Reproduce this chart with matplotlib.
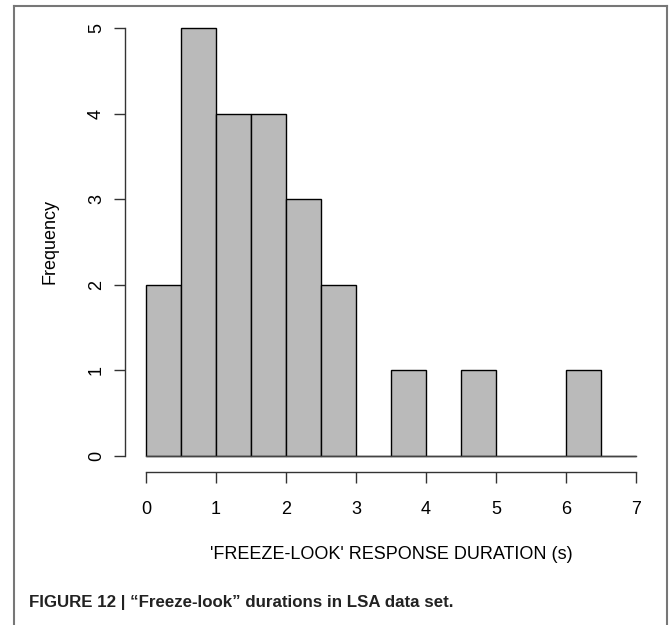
import matplotlib.pyplot as plt

plt.rcParams['font.family'] = ['Liberation Sans', 'DejaVu Sans']

# histogram of 'freeze-look' durations, bins of 0.5 s
bin_edges = [0, 0.5, 1, 1.5, 2, 2.5, 3, 3.5, 4, 4.5, 5, 5.5, 6, 6.5, 7]
counts = [2, 5, 4, 4, 3, 2, 0, 1, 0, 1, 0, 0, 1, 0]
x_ticks = [0, 1, 2, 3, 4, 5, 6, 7]
y_ticks = [0, 1, 2, 3, 4, 5]
caption = "FIGURE 12 | \u201cFreeze-look\u201d durations in LSA data set."

W, H = 669, 625
fig = plt.figure(figsize=(W / 100, H / 100), dpi=100)

# axes covers the data region 0..7 x 0..5
ax = fig.add_axes([146 / W, 1 - 456 / H, (636 - 146) / W, (456 - 28) / H])
ax.set_xlim(0, 7)
ax.set_ylim(0, 5)

widths = [bin_edges[i + 1] - bin_edges[i] for i in range(len(counts))]
ax.bar(bin_edges[:-1], counts, width=widths, align='edge', color='#bababa',
       edgecolor='black', linewidth=1.0, clip_on=False)
# zero-height bins still leave a baseline
ax.plot([bin_edges[0], bin_edges[-1]], [0, 0], color='#444444', lw=1.0, clip_on=False)

ax.spines['top'].set_visible(False)
ax.spines['right'].set_visible(False)
ax.spines['bottom'].set_position(('outward', 16 * 0.72))
ax.spines['left'].set_position(('outward', 21 * 0.72))
ax.spines['bottom'].set_bounds(0, 7)
ax.spines['left'].set_bounds(0, 5)
for s in ['bottom', 'left']:
    ax.spines[s].set_color('#333333')
    ax.spines[s].set_linewidth(1.0)

ax.set_xticks(x_ticks)
ax.set_yticks(y_ticks)
ax.set_yticklabels([str(v) for v in y_ticks], rotation=90, va='center')
ax.tick_params(length=8, width=1.0, color='#333333', labelsize=13)
ax.tick_params(axis='x', pad=13)
ax.tick_params(axis='y', pad=6.5)

ax.set_xlabel("'FREEZE-LOOK' RESPONSE DURATION (s)", fontsize=13, labelpad=20)
ax.set_ylabel("Frequency", fontsize=13, labelpad=21.5)

fig.text(29 / W, 1 - 603 / H, caption, fontsize=12.2, fontweight='bold',
         va='center', ha='left', color='#222222')

# outer frame (open at the bottom)
fig.add_artist(plt.Line2D([14 / W, 14 / W], [0, 1 - 6 / H], color='#777777', lw=1.5))
fig.add_artist(plt.Line2D([14 / W, 667 / W], [1 - 6 / H, 1 - 6 / H], color='#777777', lw=1.5))
fig.add_artist(plt.Line2D([667 / W, 667 / W], [0, 1 - 6 / H], color='#777777', lw=1.5))

fig.savefig('out.png', dpi=100)
